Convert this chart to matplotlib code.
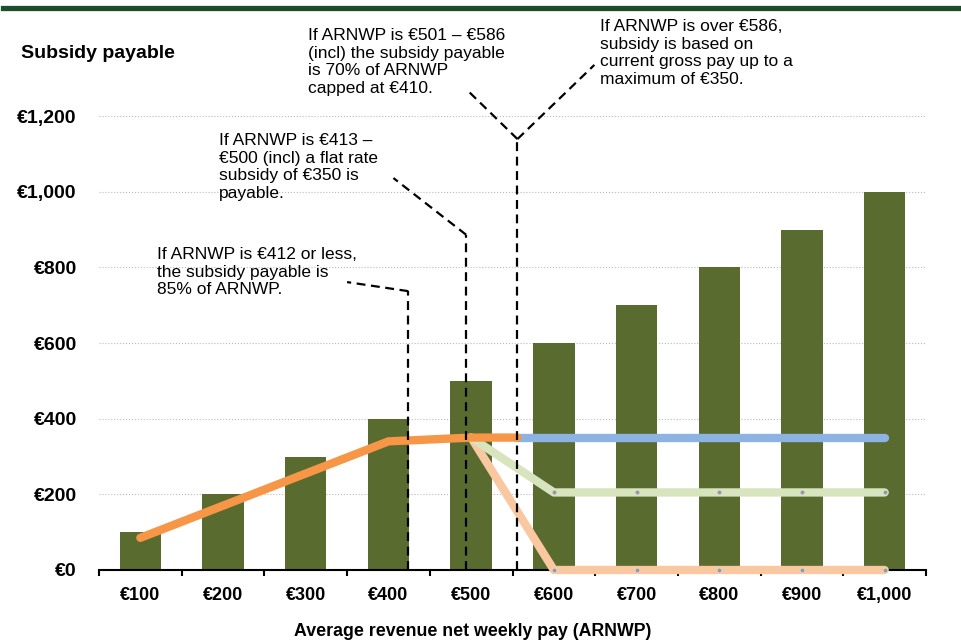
''' Subsidy payable by average revenue net weekly pay '''
import matplotlib
matplotlib.use('Agg')
import matplotlib.pyplot as plt
from matplotlib.lines import Line2D
import numpy as np

plt.rcParams['font.family'] = ['Liberation Sans', 'DejaVu Sans']

# bars: weekly pay bands
pay = [100, 200, 300, 400, 500, 600, 700, 800, 900, 1000]
pay_labels = ['€100', '€200', '€300', '€400', '€500', '€600', '€700', '€800', '€900', '€1,000']

# subsidy lines (x in euro pay, y in euro subsidy)
orange_x = [100, 400, 500, 556]
orange_y = [85, 340, 350, 350]
blue_x = [556, 1000]
blue_y = [350, 350]
green_x = [500, 600, 700, 800, 900, 1000]
green_y = [350, 205, 205, 205, 205, 205]
peach_x = [500, 600, 700, 800, 900, 1000]
peach_y = [350, 0, 0, 0, 0, 0]

# threshold markers (dashed) and where their leaders end
thresh_x = [424, 494, 556]
thresh_top = [737, 886, 1139]
leader_ends = [[(350, 761)], [(406, 1036)], [(494, 1271), (649, 1335)]]

notes = [
    'If ARNWP is €412 or less,\nthe subsidy payable is\n85% of ARNWP.',
    'If ARNWP is €413 –\n€500 (incl) a flat rate\nsubsidy of €350 is\npayable.',
    'If ARNWP is €501 – €586\n(incl) the subsidy payable\nis 70% of ARNWP\ncapped at €410.',
    'If ARNWP is over €586,\nsubsidy is based on\ncurrent gross pay up to a\nmaximum of €350.',
]
note_pos = [(157, 247), (219, 133), (308, 28), (600, 19)]

W, H = 961, 643


def idx(v):
    ''' euro pay -> category position '''
    return (np.asarray(v, dtype=float) - 100) / 100


fig = plt.figure(figsize=(W / 100, H / 100), dpi=100)
ax = fig.add_axes([99 / W, 1 - 570 / H, 827 / W, 454 / H])

ax.bar(idx(pay), pay, width=0.5, color='#5a6b30', zorder=2)

ax.plot(idx(peach_x), peach_y, color='#fac8a0', lw=6, solid_capstyle='round',
        marker='o', ms=3.5, mfc='#999999', mec='#dddddd', mew=0.6, zorder=3,
        clip_on=False)
ax.plot(idx(green_x), green_y, color='#d7e4bd', lw=6, solid_capstyle='round',
        marker='o', ms=3.5, mfc='#999999', mec='#dddddd', mew=0.6, zorder=3)
ax.plot(idx(blue_x), blue_y, color='#8db3e2', lw=6, solid_capstyle='round', zorder=4)
ax.plot(idx(orange_x), orange_y, color='#f79646', lw=6, solid_capstyle='round', zorder=5)

for tx, ty, ends in zip(thresh_x, thresh_top, leader_ends):
    ax.plot(idx([tx, tx]), [0, ty], color='black', ls=(0, (4, 2.5)), lw=1.6,
            zorder=6, clip_on=False)
    for ex, ey in ends:
        ax.plot(idx([tx, ex]), [ty, ey], color='black', ls=(0, (4, 2.5)), lw=1.6,
                zorder=6, clip_on=False)

ax.set_xlim(-0.5, 9.5)
ax.set_ylim(0, 1200)
ax.set_yticks(range(0, 1201, 200))
ax.set_yticklabels(['€0', '€200', '€400', '€600', '€800', '€1,000', '€1,200'],
                   fontsize=14, fontweight='bold')
ax.tick_params(axis='y', length=0, pad=16)
ax.set_xticks(np.arange(10))
ax.set_xticklabels(pay_labels, fontsize=13, fontweight='bold')
ax.set_xticks(np.arange(-0.5, 10, 1), minor=True)
ax.tick_params(axis='x', which='major', length=0, pad=12)
ax.tick_params(axis='x', which='minor', length=4, width=1.5, direction='out')
ax.yaxis.grid(True, color='#bbbbbb', ls=':', lw=0.8, zorder=0)
ax.set_axisbelow(True)
for s in ['top', 'right', 'left']:
    ax.spines[s].set_visible(False)
ax.spines['bottom'].set_linewidth(1.5)

for txt, (px, py) in zip(notes, note_pos):
    fig.text(px / W, 1 - py / H, txt, fontsize=12.5, ha='left', va='top',
             linespacing=1.22)

fig.text(21 / W, 1 - 53 / H, 'Subsidy payable', fontsize=14, fontweight='bold',
         ha='left', va='center')
fig.text(473 / W, 1 - 632 / H, 'Average revenue net weekly pay (ARNWP)',
         fontsize=12.8, fontweight='bold', ha='center', va='center')

fig.add_artist(Line2D([3 / W, 1], [1 - 7.5 / H, 1 - 7.5 / H], color='#1e4d2b',
                      lw=3.8, transform=fig.transFigure))

fig.savefig('out.png', dpi=100)
